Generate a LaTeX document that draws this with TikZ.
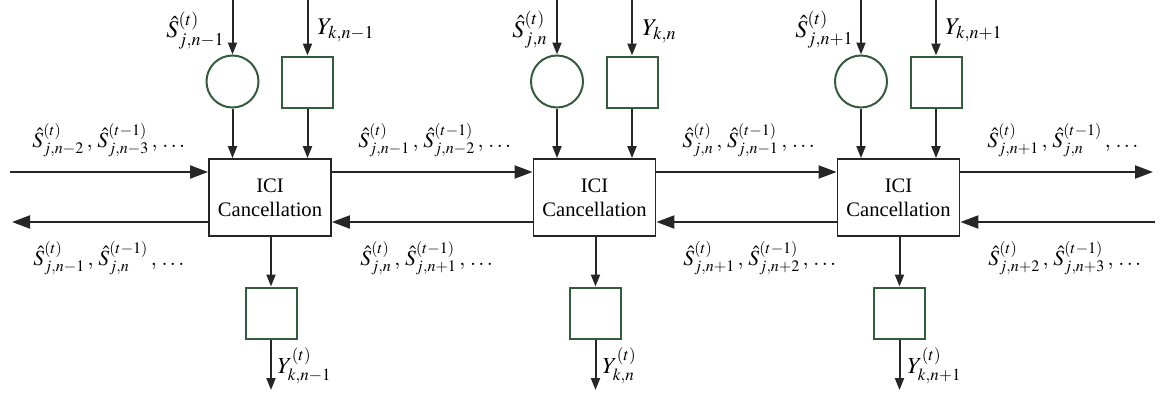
\documentclass[tikz,border=0pt]{standalone}
\usepackage{mathptmx}
\usepackage{fontspec}
\setmainfont{Liberation Serif}
\usetikzlibrary{arrows.meta}
\definecolor{grn}{RGB}{50,92,60}
\tikzset{
  harr/.style={line width=1pt, draw=black!85, -{Triangle[length=9pt,width=6.5pt]}},
  varr/.style={line width=1pt, draw=black!85, -{Triangle[length=6pt,width=4.5pt]}},
  icibox/.style={draw=black!85, line width=0.9pt, minimum width=61pt, minimum height=38.5pt,
    align=center, inner sep=0pt, font=\fontsize{10.3}{12}\selectfont},
  gcirc/.style={circle, draw=grn, line width=1pt, minimum size=26pt, inner sep=0pt},
  gsq/.style={draw=grn, line width=1pt, minimum size=25.5pt, inner sep=0pt},
  toplbl/.style={inner sep=0pt, font=\fontsize{12}{14}\selectfont},
  botlbl/.style={inner sep=0pt, font=\fontsize{11.5}{14}\selectfont},
  hlbl/.style={inner sep=0pt, font=\fontsize{10.8}{13}\selectfont},
}
\newcommand\sep{\,,\,}
\begin{document}
\begin{tikzpicture}[x=0.5pt,y=-0.5pt]
\useasboundingbox (0,0) rectangle (1163,396);
\foreach \i/\cx in {1/270,2/594.5,3/898.5}{
  \node[icibox] (b\i) at (\cx,197.5) {ICI\\Cancellation};
  \node[gcirc] (c\i) at (\cx-37.5,81.5) {};
  \node[gsq] (s\i) at (\cx+37.5,82) {};
  \node[gsq] (o\i) at (\cx+1,313) {};
  \coordinate (ct\i) at (\cx-37.5,0);
  \coordinate (st\i) at (\cx+37.5,0);
  \coordinate (ob\i) at (\cx+1,390);
  \draw[varr] (ct\i) -- (c\i);
  \draw[varr] (c\i) -- (c\i |- b\i.north);
  \draw[varr] (st\i) -- (s\i);
  \draw[varr] (s\i) -- (s\i |- b\i.north);
  \draw[varr] (o\i |- b\i.south) -- (o\i);
  \draw[varr] (o\i) -- (ob\i);
}
\coordinate (uL) at (10,172);
\coordinate (uR) at (1153,172);
\coordinate (lR) at (1155,222);
\coordinate (lL) at (12,222);
\draw[harr] (uL) -- (uL -| b1.west);
\draw[harr] (b1.east |- uL) -- (b2.west |- uL);
\draw[harr] (b2.east |- uL) -- (b3.west |- uL);
\draw[harr] (b3.east |- uL) -- (uR);
\draw[harr] (lR) -- (lR -| b3.east);
\draw[harr] (b3.west |- lR) -- (b2.east |- lR);
\draw[harr] (b2.west |- lR) -- (b1.east |- lR);
\draw[harr] (b1.west |- lR) -- (lL);
% top labels
\node[toplbl, anchor=base east] (tc1) at (225,38) {$\hat{S}^{(t)}_{j,n-1}$};
\node[toplbl, anchor=base east] (tc2) at (548,37) {$\hat{S}^{(t)}_{j,n}$};
\node[toplbl, anchor=base east] (tc3) at (854,37) {$\hat{S}^{(t)}_{j,n+1}$};
\node[toplbl, anchor=base west] (ts1) at (317,34) {$Y_{k,n-1}$};
\node[toplbl, anchor=base west] (ts2) at (642,35) {$Y_{k,n}$};
\node[toplbl, anchor=base west] (ts3) at (945,34) {$Y_{k,n+1}$};
% upper line labels
\node[hlbl, anchor=base west] (u1) at (32,147) {$\hat{S}^{(t)}_{j,n-2}\sep\hat{S}^{(t-1)}_{j,n-3}\sep\ldots$};
\node[hlbl, anchor=base west] (u2) at (358,147) {$\hat{S}^{(t)}_{j,n-1}\sep\hat{S}^{(t-1)}_{j,n-2}\sep\ldots$};
\node[hlbl, anchor=base west] (u3) at (682,147) {$\hat{S}^{(t)}_{j,n}\sep\hat{S}^{(t-1)}_{j,n-1}\sep\ldots$};
\node[hlbl, anchor=base west] (u4) at (987,147) {$\hat{S}^{(t)}_{j,n+1}\sep\hat{S}^{(t-1)}_{j,n}\sep\ldots$};
% lower line labels
\node[hlbl, anchor=base west] (l1) at (33,265) {$\hat{S}^{(t)}_{j,n-1}\sep\hat{S}^{(t-1)}_{j,n}\sep\ldots$};
\node[hlbl, anchor=base west] (l2) at (360,265) {$\hat{S}^{(t)}_{j,n}\sep\hat{S}^{(t-1)}_{j,n+1}\sep\ldots$};
\node[hlbl, anchor=base west] (l3) at (683,265) {$\hat{S}^{(t)}_{j,n+1}\sep\hat{S}^{(t-1)}_{j,n+2}\sep\ldots$};
\node[hlbl, anchor=base west] (l4) at (988,265) {$\hat{S}^{(t)}_{j,n+2}\sep\hat{S}^{(t-1)}_{j,n+3}\sep\ldots$};
% bottom labels
\node[botlbl, anchor=base west] (y1) at (277,373) {$Y^{(t)}_{k,n-1}$};
\node[botlbl, anchor=base west] (y2) at (602,373) {$Y^{(t)}_{k,n}$};
\node[botlbl, anchor=base west] (y3) at (907,373) {$Y^{(t)}_{k,n+1}$};
\end{tikzpicture}
\end{document}
